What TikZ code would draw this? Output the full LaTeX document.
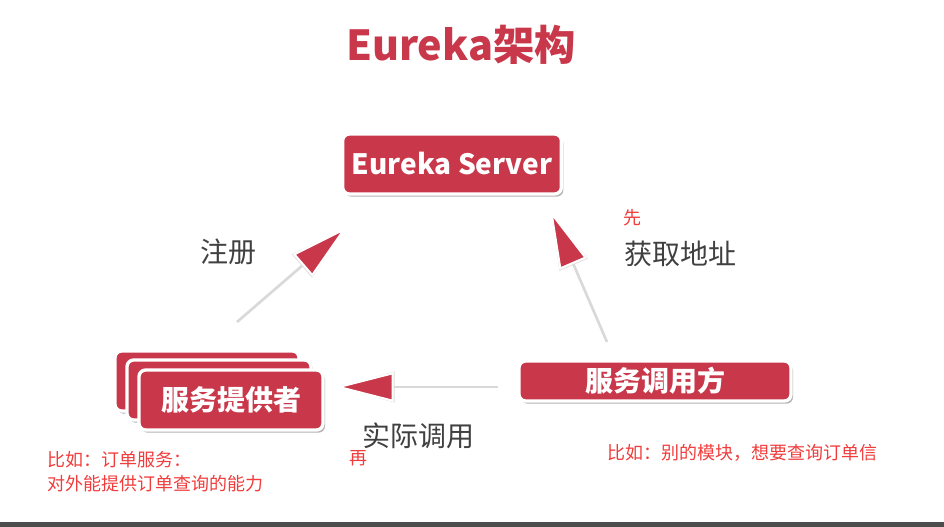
\documentclass[tikz,border=0pt]{standalone}
\usepackage{fontspec}
\setmainfont{Noto Sans CJK SC}
\usetikzlibrary{arrows.meta,shadows,positioning}
\definecolor{boxred}{HTML}{C8384A}
\definecolor{notered}{HTML}{F03C3C}
\definecolor{textgray}{HTML}{404040}

\begin{document}
\begin{tikzpicture}[x=0.75pt,y=-0.75pt,
    box node/.style={rectangle,rounded corners=5pt,fill=boxred,draw=white,line width=2.5pt,
      text=white,font=\bfseries\fontsize{21}{24}\selectfont,
      drop shadow={shadow xshift=1.5pt,shadow yshift=-2pt,opacity=0.3,fill=black}},
    label node/.style={text=textgray,font=\fontsize{21}{24}\selectfont,inner sep=0pt},
    note node/.style={text=notered,font=\fontsize{13.5}{16}\selectfont,inner sep=0pt},
    flow arrow/.style={draw=black!15,line width=2pt,
      preaction={draw=black!12,-{Triangle[length=45.5pt,width=25pt,fill=black!12]}},
      -{Triangle[length=44pt,width=22pt,color=white,fill=boxred,line width=1.5pt]}}]

  \useasboundingbox (0,0) rectangle (944,527);

  \node[font=\bfseries\fontsize{31}{36}\selectfont,text=boxred] (title) at (461,45) {Eureka架构};

  \node[box node,minimum width=164pt,minimum height=45pt] (server) at (452,164) {Eureka Server};

  % three stacked provider boxes
  \node[box node,minimum width=138pt,minimum height=45pt] (prov back) at (207,381) {};
  \node[box node,minimum width=138pt,minimum height=45pt] (prov mid) at (219,390) {};
  \node[box node,minimum width=138pt,minimum height=45pt] (prov) at (231,400) {服务提供者};

  \node[box node,minimum width=204pt,minimum height=30pt,inner ysep=1pt] (caller) at (655,381) {服务调用方};

  \coordinate (reg start) at (237,322);
  \coordinate (reg end) at (347,227);
  \coordinate (get start) at (607,342);
  \coordinate (get end) at (550,210);
  \coordinate (call start) at (498,387);
  \coordinate (call end) at (335,387);

  \draw[flow arrow] (reg start) -- (reg end);
  \draw[flow arrow] (get start) -- (get end);
  \draw[flow arrow] (call start) -- (call end);

  \node[label node] (reg) at (228,252) {注册};
  \node[note node] (first) at (632,218) {先};
  \node[label node,anchor=west] (fetch) at (624,254) {获取地址};
  \node[label node] (call) at (418,436) {实际调用};
  \node[note node] (then) at (358,458) {再};

  \node[note node,anchor=west] (prov note1) at (47,460) {比如：订单服务：};
  \node[note node,anchor=west] (prov note2) at (47,484) {对外能提供订单查询的能力};
  \node[note node,anchor=west] (caller note) at (607,453) {比如：别的模块，想要查询订单信};

  \fill[black!70] (0,522) rectangle (944,527);
\end{tikzpicture}
\end{document}
